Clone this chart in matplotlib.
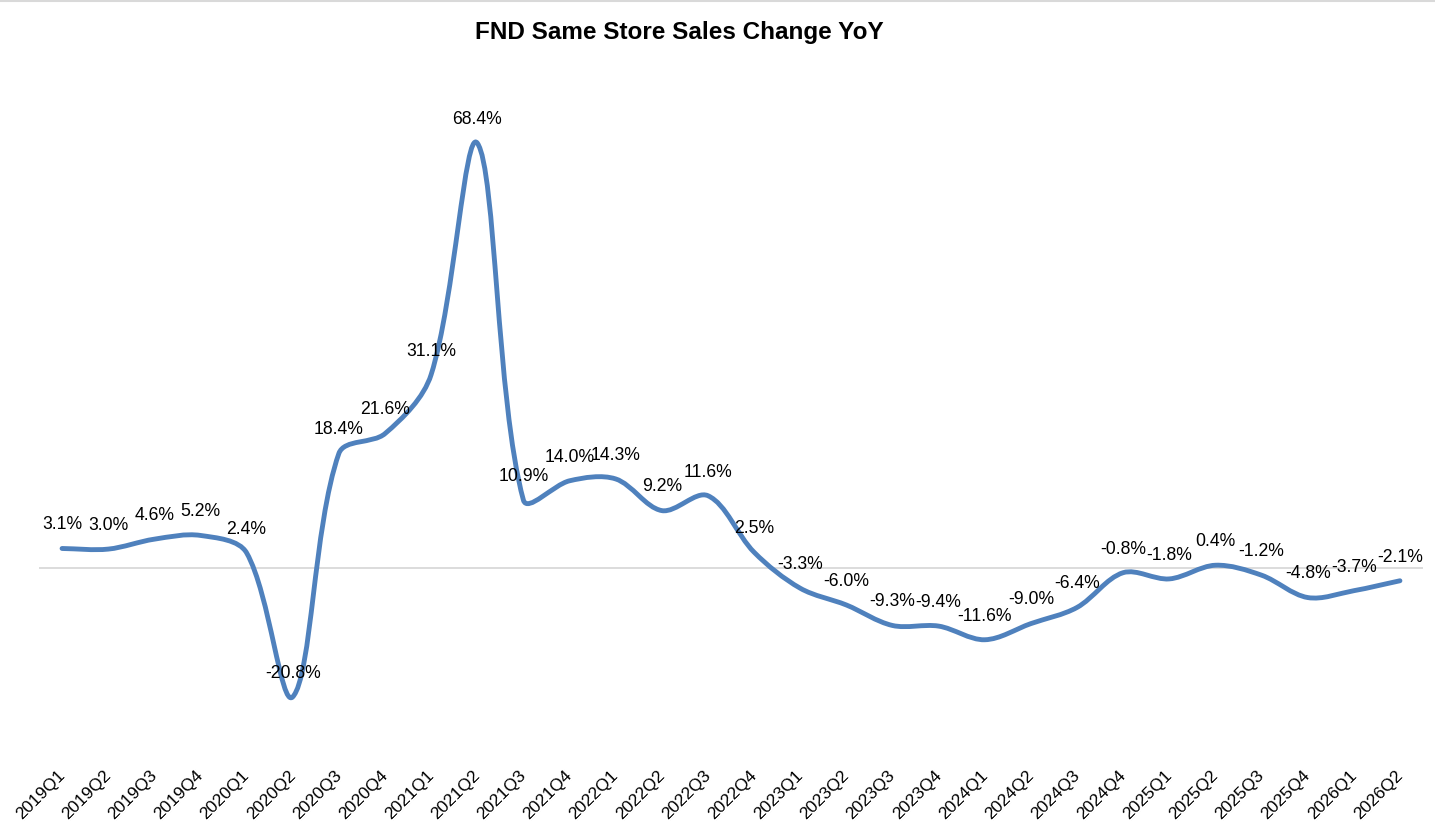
import numpy as np
import matplotlib
matplotlib.use("Agg")
import matplotlib.pyplot as plt
import matplotlib.transforms as mtransforms
from matplotlib.path import Path
from matplotlib.patches import PathPatch
from matplotlib.lines import Line2D

plt.rcParams['font.family'] = ['Liberation Sans', 'DejaVu Sans']

quarters = ['2019Q1', '2019Q2', '2019Q3', '2019Q4',
            '2020Q1', '2020Q2', '2020Q3', '2020Q4',
            '2021Q1', '2021Q2', '2021Q3', '2021Q4',
            '2022Q1', '2022Q2', '2022Q3', '2022Q4',
            '2023Q1', '2023Q2', '2023Q3', '2023Q4',
            '2024Q1', '2024Q2', '2024Q3', '2024Q4',
            '2025Q1', '2025Q2', '2025Q3', '2025Q4',
            '2026Q1', '2026Q2']
sss_change = [3.1, 3.0, 4.6, 5.2, 2.4, -20.8, 18.4, 21.6, 31.1, 68.4,
              10.9, 14.0, 14.3, 9.2, 11.6, 2.5, -3.3, -6.0, -9.3, -9.4,
              -11.6, -9.0, -6.4, -0.8, -1.8, 0.4, -1.2, -4.8, -3.7, -2.1]

LINE_BLUE = '#4F81BD'
GRID_GREY = '#D9D9D9'


def smooth_path(xs, ys, sx, sy):
    # excel-like smoothing: bezier segments, tangent split by neighbour
    # segment lengths (measured in pixels) so short steps do not overshoot
    pts = np.column_stack([xs, ys]).astype(float)
    n = len(pts)
    scale = np.array([sx, sy])

    def seglen(a, b):
        return np.hypot(*((b - a) * scale))

    out_c, in_c = [], []
    for i in range(n):
        prv = pts[i - 1] if i > 0 else pts[i]
        nxt = pts[i + 1] if i < n - 1 else pts[i]
        t = nxt - prv
        d_in = seglen(prv, pts[i])
        d_out = seglen(pts[i], nxt)
        tot = d_in + d_out
        if tot == 0:
            tot = 1.0
        out_c.append(pts[i] + t * d_out / tot / 3.0)
        in_c.append(pts[i] - t * d_in / tot / 3.0)

    verts = [pts[0]]
    codes = [Path.MOVETO]
    for i in range(n - 1):
        verts += [out_c[i], in_c[i + 1], pts[i + 1]]
        codes += [Path.CURVE4] * 3
    return Path(verts, codes)


W, H = 1435, 834
fig = plt.figure(figsize=(W / 100, H / 100), dpi=100)
ax_l, ax_r, ax_t, ax_b = 39, 1423, 71, 754
ax = fig.add_axes([ax_l / W, 1 - ax_b / H, (ax_r - ax_l) / W, (ax_b - ax_t) / H])

x = np.arange(len(quarters))
ax.set_xlim(-0.5, len(quarters) - 0.5)
ax.set_ylim(-30, 80)

ax.axhline(0, color=GRID_GREY, lw=1.3, zorder=1)

px_x = (ax_r - ax_l) / len(quarters)
px_y = (ax_b - ax_t) / 110.0
ax.add_patch(PathPatch(smooth_path(x, sss_change, px_x, px_y), facecolor='none',
                       edgecolor=LINE_BLUE, lw=3.5, capstyle='round',
                       joinstyle='round', zorder=3))

for xi, v in zip(x, sss_change):
    ax.annotate(f'{v:.1f}%', (xi, v), xytext=(0, 17), textcoords='offset points',
                ha='center', va='center', fontsize=12.7, color='black', zorder=4)

for s in ax.spines.values():
    s.set_visible(False)
ax.set_yticks([])
ax.set_xticks(x)
ax.set_xticklabels(quarters, rotation=45, ha='right', va='top',
                   rotation_mode='anchor', fontsize=12.5)
ax.tick_params(axis='x', length=0, pad=10)
shift = mtransforms.ScaledTranslation(-5 / 100, 0, fig.dpi_scale_trans)
for lbl in ax.get_xticklabels():
    lbl.set_transform(lbl.get_transform() + shift)

fig.text(679 / W, 1 - 32 / H, 'FND Same Store Sales Change YoY',
         ha='center', va='center', fontsize=17.5, fontweight='bold')

# thin chart border along the top edge
fig.add_artist(Line2D([0, 1], [1 - 0.5 / H, 1 - 0.5 / H], color=GRID_GREY, lw=1.5))

fig.savefig('out.png', dpi=100)
